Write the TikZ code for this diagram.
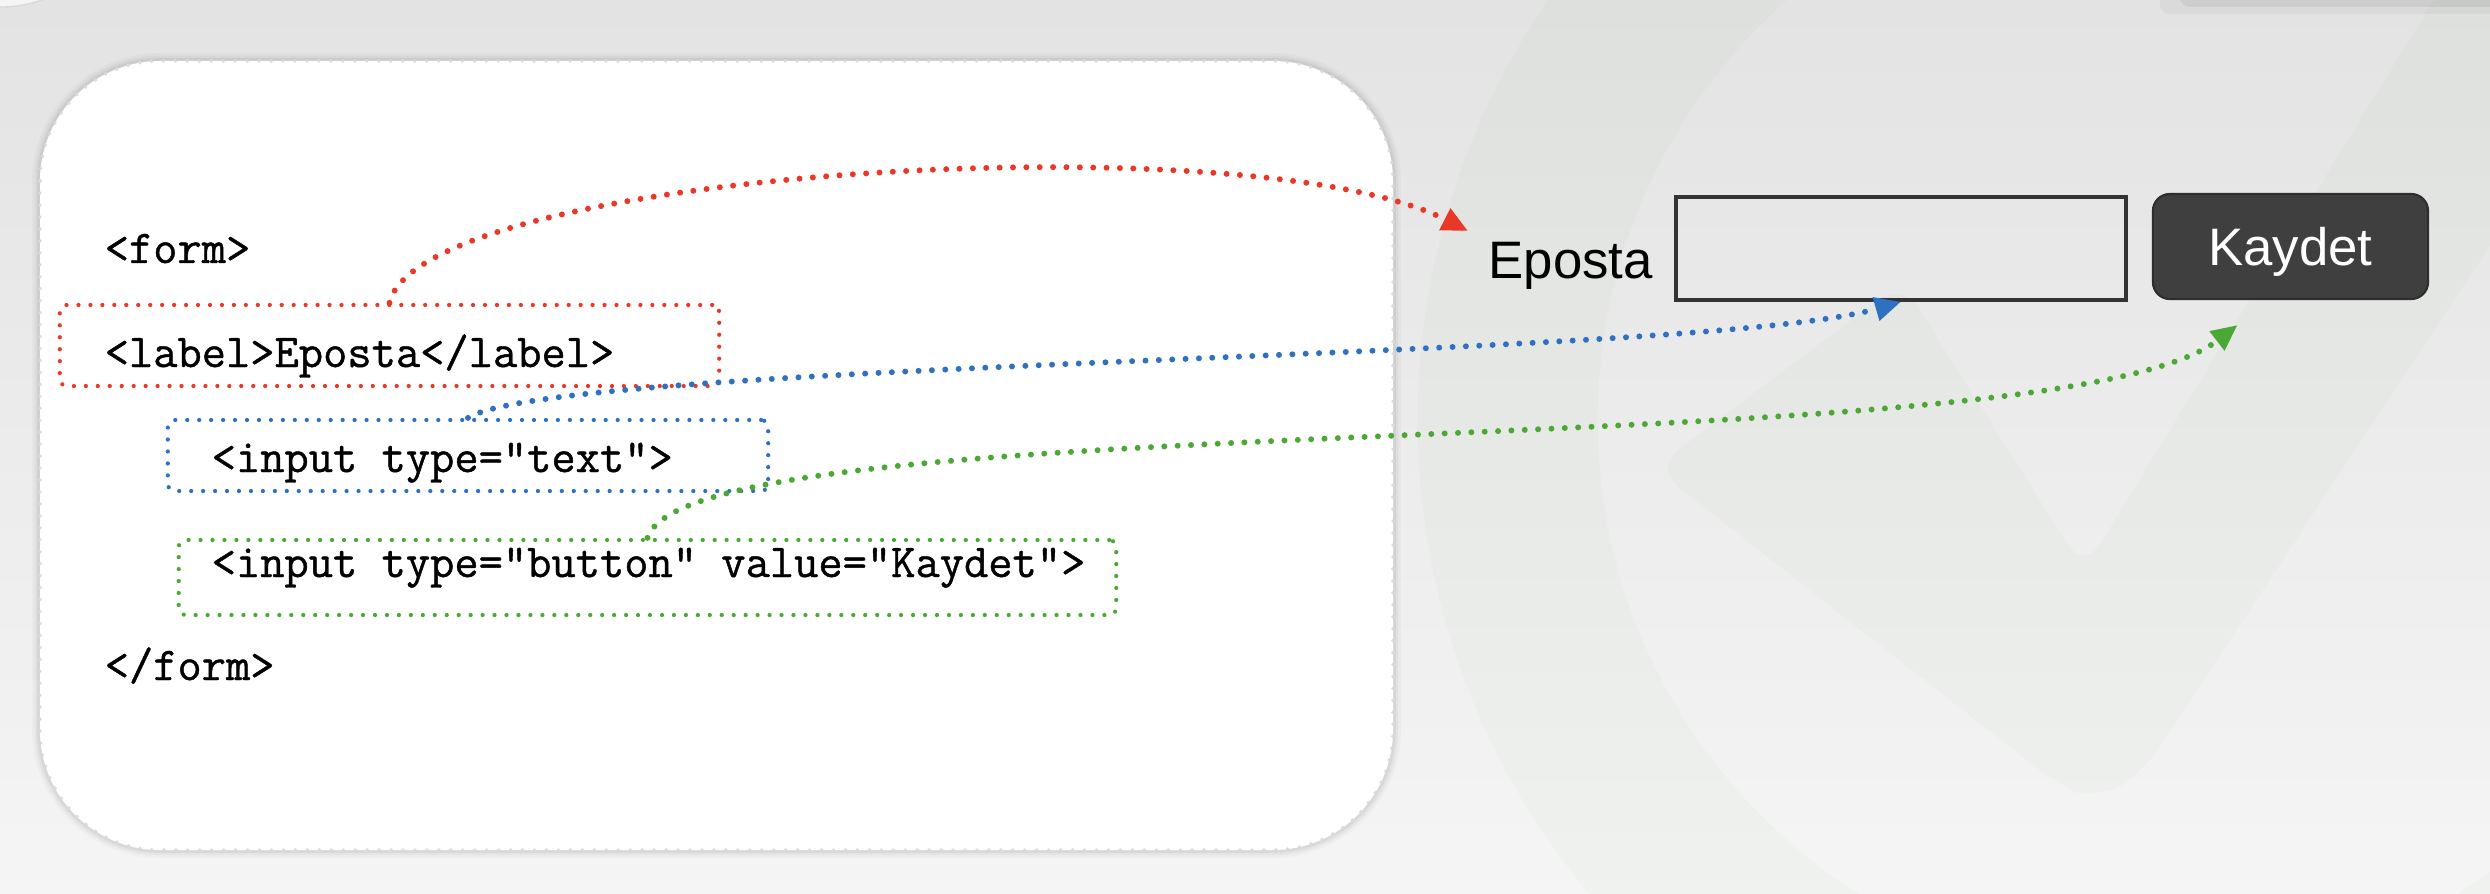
\documentclass[tikz,border=0pt]{standalone}
\usepackage{fontspec}
\setmainfont{Liberation Sans}
\newfontfamily\codefont[FakeBold=0.9]{Latin Modern Mono}
\usetikzlibrary{arrows.meta}
\definecolor{fmred}{RGB}{234,56,40}
\definecolor{fmblue}{RGB}{48,112,192}
\definecolor{fmgreen}{RGB}{76,168,52}
\definecolor{fmbtn}{RGB}{63,63,63}
\definecolor{fmwm}{RGB}{110,170,100}
\tikzset{
  fmcode/.style={anchor=base west, inner sep=0pt, font=\codefont\fontsize{13.4}{16}\selectfont},
  fmui/.style={inner sep=0pt, font=\fontsize{15}{18}\selectfont},
  fmbox/.style={line width=1.2pt, line cap=round, dash pattern=on 0pt off 3.4pt, rounded corners=2pt},
  fmlink/.style={line width=1.7pt, line cap=round, dash pattern=on 0pt off 3.8pt, -{Triangle[length=2.6mm,width=2.3mm]}},
  fmpanel/.style={draw=black!14, fill=white, line width=1.1pt, line cap=round, dash pattern=on 0pt off 3.4pt, rounded corners=1.2cm},
  fmwmark/.style={fill=fmwm, fill opacity=0.035},
}
\begin{document}
\begin{tikzpicture}[x=0.01cm, y=-0.01cm]
\useasboundingbox (0,0) rectangle (2490,894);
\shade[top color=black!11, bottom color=black!4] (0,0) rectangle (2490,894);
\begin{scope}
\clip (0,0) rectangle (2490,894);
\fill[fmwmark, even odd rule] (2158,420) circle[radius=7.4cm] (2158,420) circle[radius=5.6cm];
\fill[fmwmark, rounded corners=0.3cm] (1654,468) -- (1902,282) -- (2084,570) -- (2446,-20) -- (2520,-20) -- (2520,200) -- (2141,775) -- (2096,800) -- (2061,787) -- cycle;
\draw[black!15, fill=black!4] (0,-120) circle[radius=1.27cm];
\fill[black, opacity=0.04, rounded corners=0.1cm] (2160,-10) rectangle (2510,14);
\fill[black, opacity=0.06, rounded corners=0.1cm] (2180,-10) rectangle (2510,7);
\end{scope}

\foreach \w/\o in {4.5pt/0.025, 3pt/0.035, 1.6pt/0.05}
  \draw[black, opacity=\o, line width=\w, rounded corners=1.2cm] (40,61) rectangle (1393,850);
\draw[fmpanel] (40,61) rectangle (1393,850);

\node[fmcode] (formopen) at (104,263) {<form>};
\node[fmcode] (lblline) at (104,367) {<label>Eposta</label>};
\node[fmcode] (txtline) at (211,472) {<input type="text">};
\node[fmcode] (btnline) at (211,577) {<input type="button" value="Kaydet">};
\node[fmcode] (formclose) at (104,680) {</form>};

\node[fmbox, draw=fmred, minimum width=6.59cm, minimum height=0.81cm] (lblbox) at (389.5,345.5) {};
\node[fmbox, draw=fmblue, minimum width=6.0cm, minimum height=0.71cm] (txtbox) at (468,455.5) {};
\node[fmbox, draw=fmgreen, minimum width=9.37cm, minimum height=0.75cm] (btnbox) at (647.5,577.5) {};

\node[fmui, anchor=base west] (eposta) at (1488,278) {Eposta};
\node[draw=black!80, line width=1pt, minimum width=4.5cm, minimum height=1.03cm] (tbox) at (1901,248.5) {};
\node[fmui, draw=black!82, fill=fmbtn, line width=0.6pt, rounded corners=4.8pt, text=white, text depth=0pt, minimum width=2.75cm, minimum height=1.05cm] (btn) at (2290.5,246.5) {Kaydet};

\draw[fmlink, fmred] (lblbox.north) .. controls (420,170) and (1250,120) .. ([shift={(-20,-10)}]eposta.north west);
\draw[fmlink, fmblue] (txtbox.north) .. controls (560,360) and (1700,360) .. (tbox.south);
\draw[fmlink, fmgreen] (btnbox.north) .. controls (690,400) and (2050,470) .. ([shift={(-53,25)}]btn.south);
\end{tikzpicture}
\end{document}
